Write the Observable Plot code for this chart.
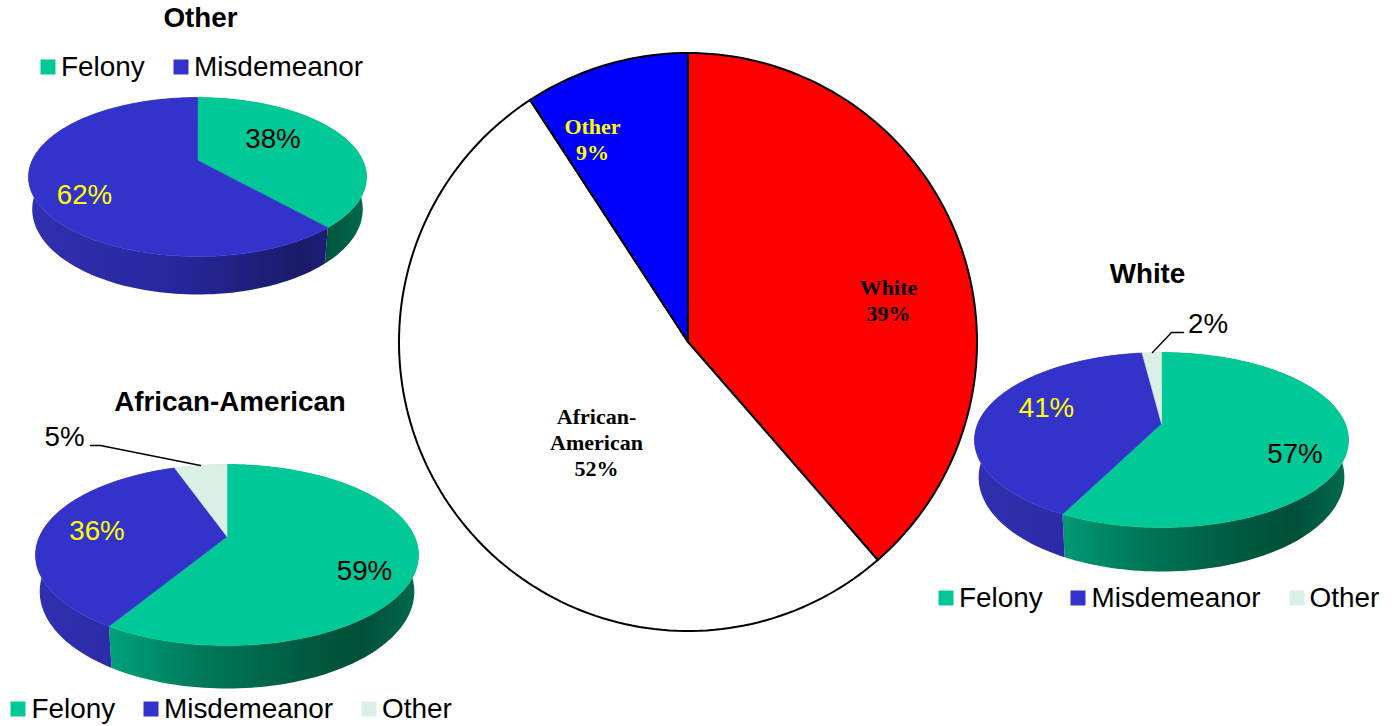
<!DOCTYPE html>
<html>
<head>
<meta charset="utf-8">
<script src="https://cdn.jsdelivr.net/npm/d3@7"></script>
<script src="https://cdn.jsdelivr.net/npm/@observablehq/plot@0.6"></script>
<style>
html,body{margin:0;padding:0;background:#fff;overflow:hidden}
svg{display:block}
</style>
</head>
<body>
<div id="chart"></div>
<script>
// ---- Data ----
const mainCategories = ["White", "African-American", "Other"];
const mainValues = [38.6, 52.2, 9.2];
const pieCategories = ["Felony", "Misdemeanor", "Other"];
const otherPieValues = [38.4, 61.6];
const africanAmericanPieValues = [58.7, 35.9, 5.4];
const whitePieValues = [57.4, 40.6, 2];

// ---- Styling and layout ----
const W = 1394, H = 726;
const sans = "Liberation Sans, Arial, sans-serif";
const serif = "Liberation Serif, Times New Roman, serif";
const mainColors = {White: "#ff0000", "African-American": "#ffffff", Other: "#0000ff"};
const pieColors = {Felony: "#00c896", Misdemeanor: "#3333cc", Other: "#daefe6"};
const wallStops = {
  Felony: [[0, "#00b288"], [0.2, "#00a07a"], [0.43, "#007a5a"], [0.7, "#005a40"], [0.85, "#004f38"], [1, "#006a4e"]],
  Misdemeanor: [[0, "#3030b0"], [0.45, "#26269c"], [0.8, "#1b1b6a"], [1, "#222288"]],
  Other: [[0, "#b8d0c6"], [1, "#8aa096"]]
};
const mainPie = {cx: 687.5, cy: 341.5, rx: 289, up: 289, down: 289};
const pies = [
  {id: "other", values: otherPieValues, cx: 197, cy: 160, rx: 169, up: 63, down: 96, depth: 38},
  {id: "aa", values: africanAmericanPieValues, cx: 226.5, cy: 536, rx: 191.5, up: 72, down: 109, depth: 43},
  {id: "white", values: whitePieValues, cx: 1161, cy: 423, rx: 187, up: 71, down: 104, depth: 44}
];
const titles = [
  {label: "Other", x: 200, y: 26},
  {label: "African-American", x: 229.5, y: 410},
  {label: "White", x: 1147, y: 282}
];
const blackLabels = [
  {label: "38%", x: 272.5, y: 147},
  {label: "5%", x: 64, y: 445},
  {label: "59%", x: 364, y: 579},
  {label: "2%", x: 1207.5, y: 332},
  {label: "57%", x: 1294.5, y: 462}
];
const yellowLabels = [
  {label: "62%", x: 84, y: 203},
  {label: "36%", x: 96.5, y: 539},
  {label: "41%", x: 1046, y: 416}
];
const legendEntries = [
  {label: "Felony", cat: "Felony", x: 47.5, tx: 60.5, y: 66.5, ty: 75.5},
  {label: "Misdemeanor", cat: "Misdemeanor", x: 180.5, tx: 193.5, y: 66.5, ty: 75.5},
  {label: "Felony", cat: "Felony", x: 17.5, tx: 31, y: 708.5, ty: 717},
  {label: "Misdemeanor", cat: "Misdemeanor", x: 150.5, tx: 163.5, y: 708.5, ty: 717},
  {label: "Other", cat: "Other", x: 368.5, tx: 381.5, y: 708.5, ty: 717},
  {label: "Felony", cat: "Felony", x: 945.5, tx: 958.5, y: 597.5, ty: 606},
  {label: "Misdemeanor", cat: "Misdemeanor", x: 1077.5, tx: 1091, y: 597.5, ty: 606},
  {label: "Other", cat: "Other", x: 1296.5, tx: 1309, y: 597.5, ty: 606}
];
const leaders = [
  {id: "aa", pts: [[90, 445], [100, 445], [200, 465]]},
  {id: "white", pts: [[1183, 332], [1171, 332], [1152, 352]]}
];
const mainLabels = [
  {label: "White\n39%", x: 888, y: 320, color: "#000000"},
  {label: "African-\nAmerican\n52%", x: 596, y: 475, color: "#000000"},
  {label: "Other\n9%", x: 592, y: 159, color: "#ffff00"}
];

// Clockwise from 12 o'clock, with the tilt giving a perspective shift on the disc.
function project(p, deg) {
  const k = (p.down - p.up) / (p.down + p.up);
  const a = deg * Math.PI / 180, u = Math.sin(a), v = Math.cos(a), w = 1 + k * v;
  const sx = p.rx * Math.sqrt(1 - k * k), sy = p.up * (1 + k);
  return [p.cx + sx * u / w, p.cy - sy * v / w];
}
// The lower rim opens a little wider than the top rim in perspective.
function lowerRim(p, [x, y]) {
  const ry = (p.up + p.down) / 2, mid = p.cy + (p.down - p.up) / 2;
  const ratio = 1 + 0.15 * p.depth / ry;
  return [p.cx + (x - p.cx) * 0.978, mid + (y - mid) * ratio + 0.85 * p.depth];
}
function arcAngles(a0, a1) {
  const n = Math.max(2, Math.ceil((a1 - a0) / 1.5));
  return d3.range(n + 1).map(i => a0 + (a1 - a0) * i / n);
}
function spans(values) {
  const total = d3.sum(values);
  let acc = 0;
  return values.map(v => { const a0 = acc; acc += v; return [a0 / total * 360, acc / total * 360]; });
}

const mainRows = [], wallRows = [], faceRows = [];
spans(mainValues).forEach(([a0, a1], i) => {
  const cat = mainCategories[i];
  const ring = arcAngles(a0, a1).map(a => project(mainPie, a));
  [[mainPie.cx, mainPie.cy], ...ring, [mainPie.cx, mainPie.cy]].forEach(([x, y]) =>
    mainRows.push({id: cat, x, y, fill: mainColors[cat]}));
});
for (const p of pies) {
  spans(p.values).forEach(([a0, a1], i) => {
    const cat = pieCategories[i], id = p.id + "-" + cat;
    const top = arcAngles(a0, a1).map(a => project(p, a));
    const low = top.map(pt => lowerRim(p, pt)).reverse();
    [...top, ...low, top[0]].forEach(([x, y]) =>
      wallRows.push({id, x, y, fill: `url(#wall-${id})`}));
    [[p.cx, p.cy], ...top, [p.cx, p.cy]].forEach(([x, y]) =>
      faceRows.push({id, x, y, fill: pieColors[cat]}));
  });
}
const leaderRows = leaders.flatMap(l => l.pts.map(([x, y]) => ({id: l.id, x, y})));

function gradients() {
  const defs = d3.create("svg:defs");
  for (const p of pies) for (const cat of pieCategories) {
    const g = defs.append("linearGradient")
      .attr("id", `wall-${p.id}-${cat}`)
      .attr("gradientUnits", "userSpaceOnUse")
      .attr("x1", p.cx - p.rx).attr("x2", p.cx + p.rx).attr("y1", 0).attr("y2", 0);
    for (const [o, c] of wallStops[cat]) g.append("stop").attr("offset", o).attr("stop-color", c);
  }
  return defs.node();
}

const textBase = {x: "x", y: "y", text: "label", lineAnchor: "bottom"};
const chart = Plot.plot({
  width: W, height: H, margin: 0,
  style: {background: "#ffffff", overflow: "visible"},
  x: {type: "linear", domain: [0, W], range: [0, W], axis: null},
  y: {type: "linear", domain: [0, H], range: [0, H], axis: null},
  color: {type: "identity"},
  marks: [
    gradients,
    Plot.line(wallRows, {x: "x", y: "y", z: "id", fill: "fill", stroke: "none"}),
    Plot.line(faceRows, {x: "x", y: "y", z: "id", fill: "fill", stroke: "fill", strokeWidth: 0.6}),
    Plot.line(mainRows, {x: "x", y: "y", z: "id", fill: "fill", stroke: "#000000", strokeWidth: 2, strokeLinejoin: "miter", strokeMiterlimit: 4}),
    Plot.line(leaderRows, {x: "x", y: "y", z: "id", stroke: "#000000", strokeWidth: 1.4}),
    Plot.text(titles, {...textBase, fontFamily: sans, fontWeight: "bold", fontSize: 27.8, fill: "#000000"}),
    Plot.text(blackLabels, {...textBase, fontFamily: sans, fontSize: 27.7, fill: "#000000"}),
    Plot.text(yellowLabels, {...textBase, fontFamily: sans, fontSize: 27.7, fill: "#ffff00"}),
    Plot.text(mainLabels, {...textBase, fontFamily: serif, fontWeight: "bold", fontSize: 22, lineHeight: 1.18, fill: "color"}),
    Plot.dot(legendEntries, {x: "x", y: "y", symbol: "square", r: 8.46, fill: d => pieColors[d.cat], stroke: "none"}),
    Plot.text(legendEntries, {x: "tx", y: "ty", text: "label", lineAnchor: "bottom", textAnchor: "start", fontFamily: sans, fontSize: 27.9, fill: "#000000"})
  ]
});
document.getElementById("chart").append(chart);
</script>
</body>
</html>
